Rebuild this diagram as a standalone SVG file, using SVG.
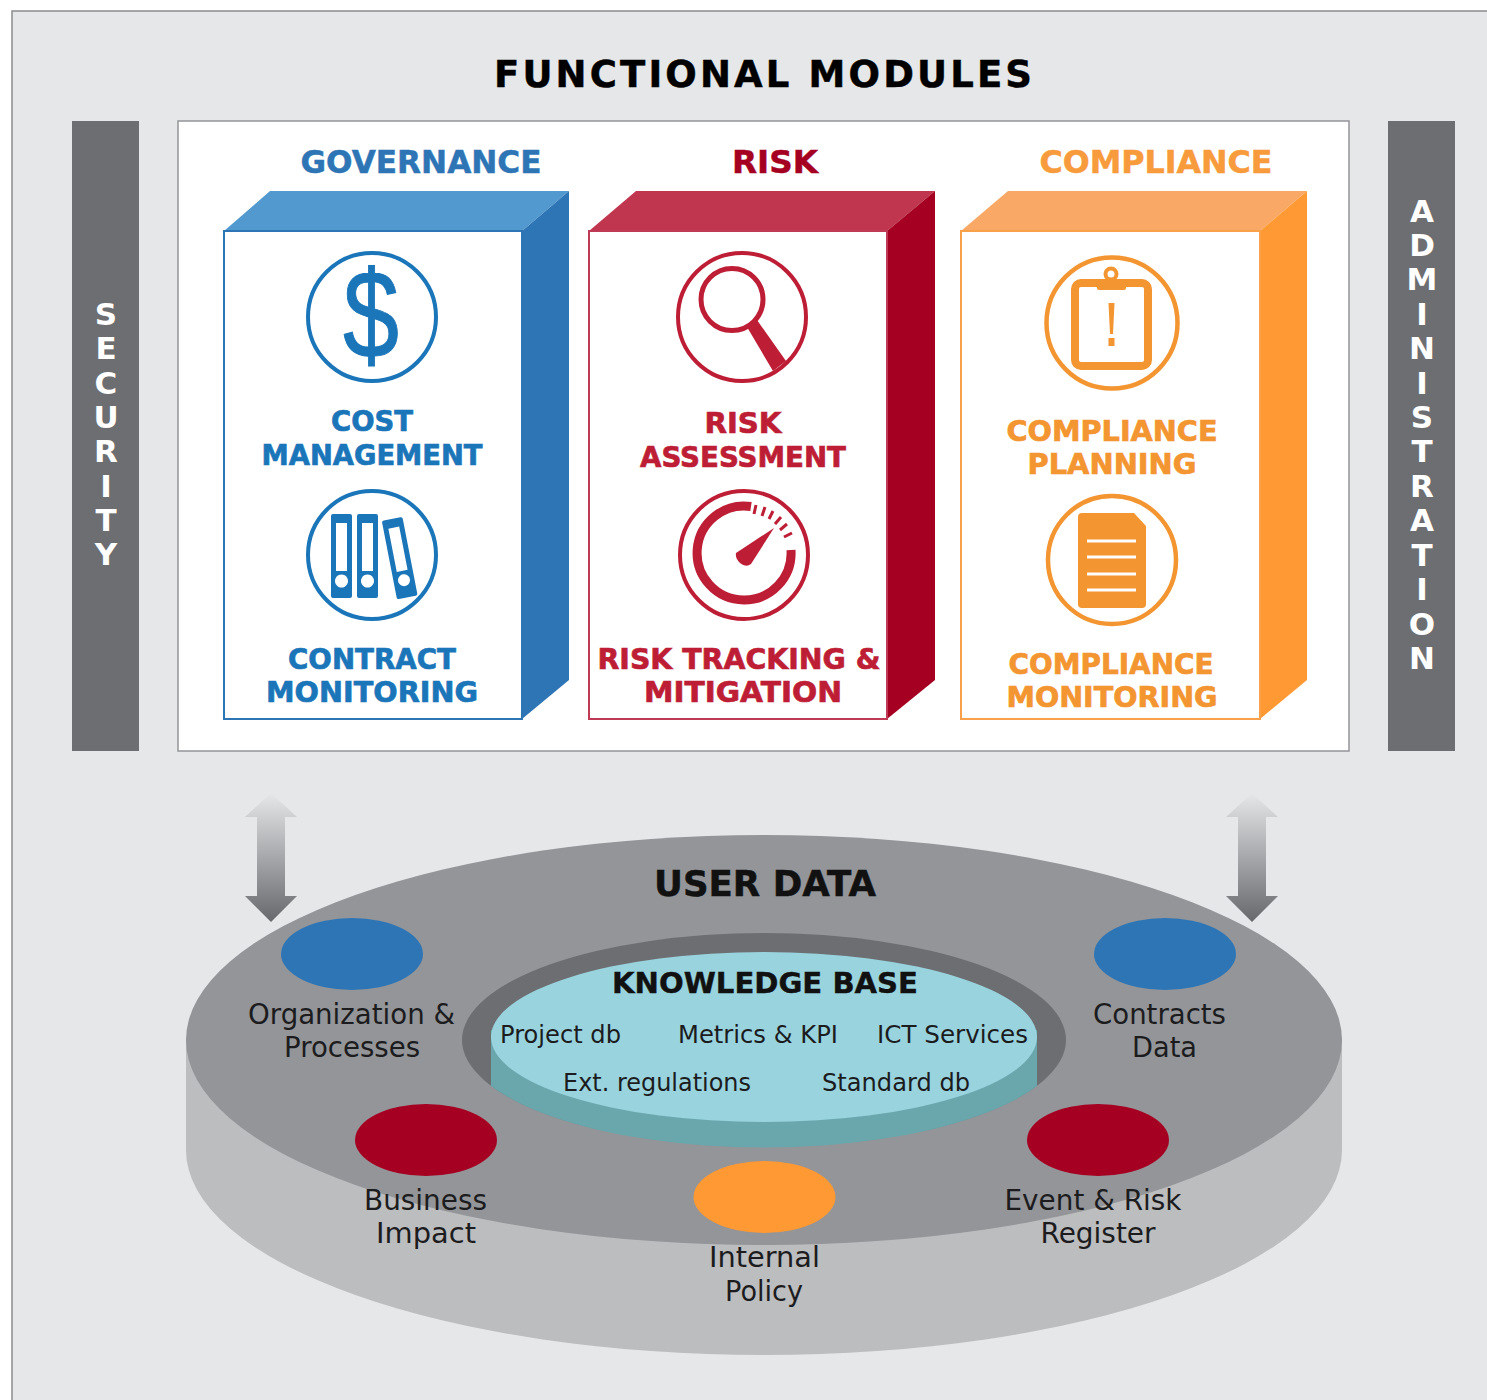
<svg xmlns="http://www.w3.org/2000/svg" width="1487" height="1400" viewBox="0 0 1487 1400">
<style>
text{font-family:"DejaVu Sans","Liberation Sans",sans-serif;text-anchor:middle}
.b{font-weight:700}
.h{font-size:32px;font-weight:700;stroke-width:.5px}
.l{font-size:29px;font-weight:700;stroke-width:.7px}
.d{font-size:28px;fill:#1c1c1e}
.k{font-size:25px;fill:#1c1c1e}
.v{font-size:31px;font-weight:700;fill:#fff}
.bl{fill:#1a75b9;stroke:#1a75b9}.re{fill:#be1e35;stroke:#be1e35}.or{fill:#f39530;stroke:#f39530}
.ns{stroke:none}
.cb{fill:none;stroke:#1a75b9;stroke-width:4}
.cr{fill:none;stroke:#be1e35;stroke-width:4}
.co{fill:none;stroke:#f39530;stroke-width:4.500}
</style>
<defs>
<linearGradient id="ag" x1="0" y1="0" x2="0" y2="1"><stop offset="0" stop-color="#e6e7e9"/><stop offset="1" stop-color="#67686b"/></linearGradient>
<clipPath id="sideclip"><rect x="491" y="1030" width="546" height="130"/></clipPath>
</defs>
<rect width="1487" height="1400" fill="#fff"/>
<rect x="12" y="11" width="1480" height="1400" fill="#e6e7e9" stroke="#8c8c8e" stroke-width="1.5"/>
<text class="b" x="763" y="87" font-size="37" stroke="#000" stroke-width=".5" textLength="538" lengthAdjust="spacing">FUNCTIONAL MODULES</text>

<g id="security">
<rect x="72" y="121" width="67" height="630" fill="#6d6e71"/>
<text class="v"><tspan x="106" y="325">S</tspan><tspan x="106" y="359">E</tspan><tspan x="106" y="394">C</tspan><tspan x="106" y="428">U</tspan><tspan x="106" y="462">R</tspan><tspan x="106" y="497">I</tspan><tspan x="106" y="531">T</tspan><tspan x="106" y="565">Y</tspan></text>
</g>
<g id="administration">
<rect x="1388" y="121" width="67" height="630" fill="#6d6e71"/>
<text class="v"><tspan x="1422" y="222">A</tspan><tspan x="1422" y="256">D</tspan><tspan x="1422" y="290">M</tspan><tspan x="1422" y="325">I</tspan><tspan x="1422" y="359">N</tspan><tspan x="1422" y="394">I</tspan><tspan x="1422" y="428">S</tspan><tspan x="1422" y="462">T</tspan><tspan x="1422" y="497">R</tspan><tspan x="1422" y="531">A</tspan><tspan x="1422" y="566">T</tspan><tspan x="1422" y="600">I</tspan><tspan x="1422" y="635">O</tspan><tspan x="1422" y="669">N</tspan></text>
</g>

<g id="modules-panel">
<rect x="178" y="121" width="1171" height="630" fill="#fff" stroke="#939598" stroke-width="1.5"/>
<text class="h" x="421" y="173" fill="#2e75b6" stroke="#2e75b6" textLength="241" lengthAdjust="spacingAndGlyphs">GOVERNANCE</text>
<text class="h" x="775" y="173" fill="#a50021" stroke="#a50021" textLength="86" lengthAdjust="spacingAndGlyphs">RISK</text>
<text class="h" x="1156" y="173" fill="#f79b3c" stroke="#f79b3c" textLength="233" lengthAdjust="spacingAndGlyphs">COMPLIANCE</text>
</g>

<g id="governance">
<polygon points="224,231 270,191 569,191 522,231" fill="#5299cf"/>
<polygon points="522,231 569,191 569,680 522,719" fill="#2e75b6"/>
<rect x="224" y="231" width="298" height="488" fill="#fff" stroke="#2e75b6" stroke-width="2"/>
<circle class="cb" cx="372" cy="317" r="64"/>
<text x="371" y="358" font-size="124" class="bl" style="font-family:'Liberation Sans',sans-serif" stroke-width="1" textLength="56" lengthAdjust="spacingAndGlyphs">$</text>
<text class="l bl" x="372" y="431" textLength="82" lengthAdjust="spacingAndGlyphs">COST</text>
<text class="l bl" x="372" y="465" textLength="221" lengthAdjust="spacingAndGlyphs">MANAGEMENT</text>
<circle class="cb" cx="372" cy="555" r="64"/>
<g class="bl ns">
<path fill-rule="evenodd" d="M333,514h17a2,2 0 0 1 2,2v80a2,2 0 0 1-2,2h-17a2,2 0 0 1-2-2v-80a2,2 0 0 1 2-2zM336,523v48h11v-48zM341.500,574.500a6.500,6.500 0 1 0 .01,0z"/>
<path fill-rule="evenodd" d="M359,514h17a2,2 0 0 1 2,2v80a2,2 0 0 1-2,2h-17a2,2 0 0 1-2-2v-80a2,2 0 0 1 2-2zM362,523v48h11v-48zM367.500,574.500a6.500,6.500 0 1 0 .01,0z"/>
<path fill-rule="evenodd" transform="rotate(-11 400 557)" d="M391,518h17a2,2 0 0 1 2,2v76a2,2 0 0 1-2,2h-17a2,2 0 0 1-2-2v-76a2,2 0 0 1 2-2zM394,527v44h11v-44zM399.500,574.500a6,6 0 1 0 .01,0z"/>
</g>
<text class="l bl" x="372" y="669" textLength="168" lengthAdjust="spacingAndGlyphs">CONTRACT</text>
<text class="l bl" x="372" y="702" textLength="212" lengthAdjust="spacingAndGlyphs">MONITORING</text>
</g>

<g id="risk">
<polygon points="589,231 636,191 935,191 887,231" fill="#c0364f"/>
<polygon points="887,231 935,191 935,680 887,719" fill="#a50021"/>
<rect x="589" y="231" width="298" height="488" fill="#fff" stroke="#be3a55" stroke-width="2"/>
<circle class="cr" cx="742" cy="317" r="64"/>
<circle cx="732" cy="299.500" r="31" fill="none" stroke="#be1e35" stroke-width="5"/>
<polygon points="747,327 757,320 786,361 773,371" fill="#be1e35"/>
<text class="l re" x="743" y="433" textLength="77" lengthAdjust="spacingAndGlyphs">RISK</text>
<text class="l re" x="743" y="467" textLength="206" lengthAdjust="spacingAndGlyphs">ASSESSMENT</text>
<circle class="cr" cx="744" cy="555" r="64"/>
<path d="M751,506.500A47,47 0 1 0 791,550" fill="none" stroke="#be1e35" stroke-width="9"/>
<path d="M756,505l-2,9M765,507l-3,9M773,511l-4,8M781,517l-6,7M787,524l-7,6M792,533l-8,4" fill="none" stroke="#be1e35" stroke-width="3"/>
<path d="M736,553L774,528L751,564Q746,568 740,563Q735,558 736,553z" fill="#be1e35"/>
<text class="l re" x="739" y="669" textLength="283" lengthAdjust="spacingAndGlyphs">RISK TRACKING &amp;</text>
<text class="l re" x="743" y="702" textLength="198" lengthAdjust="spacingAndGlyphs">MITIGATION</text>
</g>

<g id="compliance">
<polygon points="961,231 1008,191 1307,191 1260,231" fill="#f9a866"/>
<polygon points="1260,231 1307,191 1307,680 1260,719" fill="#ff9933"/>
<rect x="961" y="231" width="299" height="488" fill="#fff" stroke="#f9a04a" stroke-width="2"/>
<circle class="co" cx="1112" cy="323" r="65.500"/>
<rect x="1075" y="283" width="73" height="83" rx="6" fill="none" stroke="#f39530" stroke-width="8"/>
<circle cx="1111" cy="274" r="5.500" fill="#fff" stroke="#f39530" stroke-width="4"/>
<rect x="1097" y="280" width="29" height="10" rx="2" fill="#f39530"/>
<polygon points="1108.500,303 1114.500,303 1113,334 1110,334" fill="#f39530"/>
<rect x="1108.500" y="338" width="6" height="8" fill="#f39530"/>
<text class="l or" x="1112" y="441" textLength="211" lengthAdjust="spacingAndGlyphs">COMPLIANCE</text>
<text class="l or" x="1112" y="474" textLength="169" lengthAdjust="spacingAndGlyphs">PLANNING</text>
<circle class="co" cx="1112" cy="560" r="64"/>
<path d="M1082,513H1134L1146,526V604a4,4 0 0 1-4,4H1082a4,4 0 0 1-4-4V517a4,4 0 0 1 4-4z" fill="#f39530"/>
<path d="M1087,541H1136M1087,557H1136M1087,574H1136M1087,590H1136" stroke="#fff" stroke-width="3"/>
<text class="l or" x="1111" y="674" textLength="205" lengthAdjust="spacingAndGlyphs">COMPLIANCE</text>
<text class="l or" x="1112" y="707" textLength="211" lengthAdjust="spacingAndGlyphs">MONITORING</text>
</g>

<g id="user-data">
<path d="M186,1040V1150A578,205 0 0 0 1342,1150V1040z" fill="#bcbdbf"/>
<ellipse cx="764" cy="1040" rx="578" ry="205" fill="#939598"/>
<text class="b" x="765" y="896" font-size="35" fill="#111" stroke="#111" stroke-width=".5" textLength="222" lengthAdjust="spacingAndGlyphs">USER DATA</text>
</g>

<g id="knowledge-base">
<ellipse cx="764" cy="1040" rx="302" ry="107" fill="#6d6e71"/>
<ellipse cx="764" cy="1040" rx="302" ry="107.500" fill="#6aa7ad" clip-path="url(#sideclip)"/>
<ellipse cx="764" cy="1037" rx="273" ry="85" fill="#99d4de"/>
<text class="b" x="765" y="993" font-size="28" fill="#111" stroke="#111" stroke-width=".4" textLength="306" lengthAdjust="spacingAndGlyphs">KNOWLEDGE BASE</text>
<text class="k" x="560.500" y="1043" textLength="121" lengthAdjust="spacingAndGlyphs">Project db</text>
<text class="k" x="758" y="1043" textLength="160" lengthAdjust="spacingAndGlyphs">Metrics &amp; KPI</text>
<text class="k" x="952.500" y="1043" textLength="151" lengthAdjust="spacingAndGlyphs">ICT Services</text>
<text class="k" x="657" y="1091" textLength="188" lengthAdjust="spacingAndGlyphs">Ext. regulations</text>
<text class="k" x="896" y="1091" textLength="148" lengthAdjust="spacingAndGlyphs">Standard db</text>
</g>

<g id="org-processes">
<ellipse cx="352" cy="954" rx="71" ry="36" fill="#2e75b6"/>
<text class="d" x="351.500" y="1024" textLength="207" lengthAdjust="spacingAndGlyphs">Organization &amp;</text>
<text class="d" x="352" y="1057" textLength="136" lengthAdjust="spacingAndGlyphs">Processes</text>
</g>
<g id="contracts-data">
<ellipse cx="1165" cy="954" rx="71" ry="36" fill="#2e75b6"/>
<text class="d" x="1159.500" y="1024" textLength="133" lengthAdjust="spacingAndGlyphs">Contracts</text>
<text class="d" x="1164.500" y="1057" textLength="65" lengthAdjust="spacingAndGlyphs">Data</text>
</g>
<g id="business-impact">
<ellipse cx="426" cy="1140" rx="71" ry="36" fill="#a50021"/>
<text class="d" x="425.500" y="1210" textLength="123" lengthAdjust="spacingAndGlyphs">Business</text>
<text class="d" x="426" y="1243" textLength="100" lengthAdjust="spacingAndGlyphs">Impact</text>
</g>
<g id="event-risk">
<ellipse cx="1098" cy="1140" rx="71" ry="36" fill="#a50021"/>
<text class="d" x="1093" y="1210" textLength="177" lengthAdjust="spacingAndGlyphs">Event &amp; Risk</text>
<text class="d" x="1098" y="1243" textLength="115" lengthAdjust="spacingAndGlyphs">Register</text>
</g>
<g id="internal-policy">
<ellipse cx="764.500" cy="1197" rx="71" ry="36" fill="#ff9933"/>
<text class="d" x="764.500" y="1267" textLength="111" lengthAdjust="spacingAndGlyphs">Internal</text>
<text class="d" x="764" y="1301" textLength="78" lengthAdjust="spacingAndGlyphs">Policy</text>
</g>

<g id="connectors">
<polygon points="271,793 297,817 285,817 285,896 297,896 271,922 245,896 257,896 257,817 245,817" fill="url(#ag)"/>
<polygon points="1252,793 1278,817 1266,817 1266,896 1278,896 1252,922 1226,896 1238,896 1238,817 1226,817" fill="url(#ag)"/>
</g>
</svg>
